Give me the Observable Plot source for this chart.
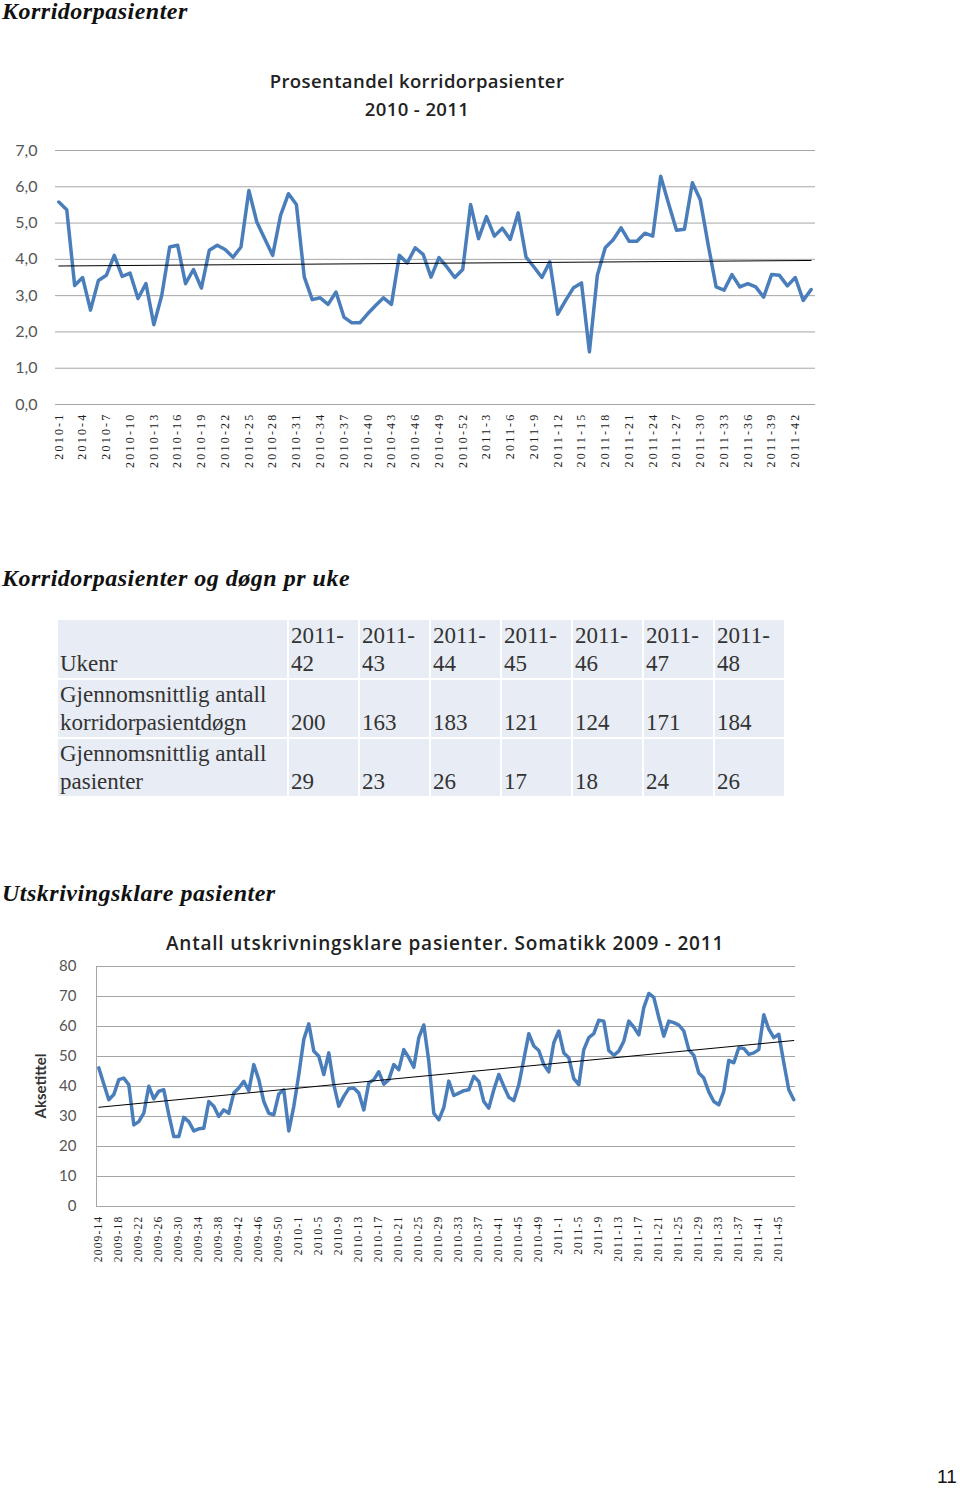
<!DOCTYPE html>
<html>
<head>
<meta charset="utf-8">
<script src="https://cdn.jsdelivr.net/npm/d3@7"></script>
<script src="https://cdn.jsdelivr.net/npm/@observablehq/plot@0.6"></script>
<style>
  html, body { margin: 0; padding: 0; background: #fff; }
  body { width: 960px; height: 1488px; position: relative; overflow: hidden; }
  .abs { position: absolute; }
  .h { position: absolute; left: 2px; font-family: "Liberation Serif", serif; font-weight: bold; font-style: italic; font-size: 24px; letter-spacing: 0.5px; line-height: 24px; color: #111; white-space: nowrap; }
  .ctitle { position: absolute; font-family: "Open Sans", Lato, sans-serif; font-weight: 600; color: #222; text-align: center; white-space: nowrap; }
  table.t { position: absolute; left: 56px; top: 618px; border-collapse: separate; border-spacing: 2px; font-family: "Liberation Serif", serif; font-size: 23px; color: #333; }
  table.t td { background: #e8ecf4; vertical-align: bottom; padding: 0 3px 0 2px; line-height: 28px; }
  #c1 g[aria-label="x-axis tick label"] text { letter-spacing: 2.2px; }
  #c2 g[aria-label="x-axis tick label"] text { letter-spacing: 1.2px; }
</style>
</head>
<body>
<div class="h" style="top:-1px">Korridorpasienter</div>
<div class="ctitle" style="left:217px;width:400px;top:67px;font-size:18.5px;line-height:28px;letter-spacing:0.4px">Prosentandel korridorpasienter<br>2010 - 2011</div>
<div id="c1" class="abs" style="left:0;top:130px"></div>

<div class="h" style="top:566px">Korridorpasienter og døgn pr uke</div>
<div id="tbl"></div>

<div class="h" style="top:881px">Utskrivingsklare pasienter</div>
<div class="ctitle" style="left:145px;width:600px;top:931px;font-size:19px;line-height:24px;letter-spacing:0.8px">Antall utskrivningsklare pasienter. Somatikk 2009 - 2011</div>
<div class="abs" style="left:40px;top:1086px;transform:translate(-50%,-50%) rotate(-90deg);font-family:Lato,sans-serif;font-weight:bold;font-size:15px;color:#333;white-space:nowrap">Aksetittel</div>
<div id="c2" class="abs" style="left:0;top:955px"></div>

<div class="abs" style="left:937px;top:1466px;font-family:'Liberation Sans',sans-serif;font-size:19px;color:#111">11</div>

<script>
// ---------- Chart 1: Prosentandel korridorpasienter 2010 - 2011 ----------
const pct2010 = [5.58, 5.37, 3.28, 3.50, 2.60, 3.42, 3.56, 4.11, 3.53, 3.62, 2.92, 3.33, 2.20, 3.01, 4.34, 4.39,
  3.33, 3.72, 3.21, 4.25, 4.39, 4.27, 4.06, 4.34, 5.90, 5.03, 4.57, 4.11, 5.21, 5.81, 5.51, 3.51,
  2.89, 2.94, 2.76, 3.10, 2.41, 2.25, 2.25, 2.50, 2.73, 2.94, 2.76, 4.11, 3.90, 4.32, 4.14, 3.51,
  4.05, 3.79, 3.50, 3.72];
const pct2011 = [5.51, 4.57, 5.18, 4.64, 4.86, 4.55, 5.28, 4.06, 3.79, 3.50, 3.93, 2.49, 2.87, 3.22, 3.35, 1.45,
  3.56, 4.32, 4.54, 4.87, 4.50, 4.50, 4.72, 4.64, 6.29, 5.53, 4.80, 4.83, 6.11, 5.64, 4.40, 3.24,
  3.15, 3.58, 3.24, 3.33, 3.24, 2.96, 3.58, 3.56, 3.27, 3.50, 2.87, 3.17];
const yTicks1 = [0, 1, 2, 3, 4, 5, 6, 7];
const tickStep1 = 3;

// ---------- Table ----------
const tableWeeks = ["2011-42", "2011-43", "2011-44", "2011-45", "2011-46", "2011-47", "2011-48"];
const tableDogn = [200, 163, 183, 121, 124, 171, 184];
const tablePasienter = [29, 23, 26, 17, 18, 24, 26];
const rowLabels = ["Ukenr", "Gjennomsnittlig antall<br>korridorpasientdøgn", "Gjennomsnittlig antall<br>pasienter"];

// ---------- Chart 2: Antall utskrivningsklare pasienter ----------
const utsk2009 = [46.2, 40.8, 35.6, 37.3, 42.3, 42.8, 40.6, 27.2, 28.3, 31.1, 40.1, 35.9, 38.4, 38.9, 30.6, 23.3,
  23.3, 29.7, 28.3, 25.2, 25.9, 26.1, 35.0, 33.4, 30.0, 32.2, 31.1, 37.8, 39.5, 41.7, 38.6, 47.3,
  42.3, 35.0, 31.1, 30.6, 37.5, 38.9, 25.2, 33.4];
const utsk2010 = [44.0, 55.7, 60.9, 51.8, 50.1, 44.0, 51.2, 40.6, 33.4, 36.7, 39.3, 39.5, 37.8, 32.2, 41.2, 42.3,
  44.9, 40.8, 42.3, 47.3, 45.6, 52.3, 49.6, 46.4, 56.3, 60.5, 48.4, 31.1, 28.9, 33.0, 41.8, 37.0,
  37.8, 38.6, 38.9, 43.4, 41.7, 35.0, 32.8, 38.9, 44.0, 40.1, 36.4, 35.3, 40.6, 49.0, 57.6, 53.5,
  52.0, 47.3, 44.9, 54.6];
const utsk2011 = [58.5, 51.2, 49.6, 42.6, 40.6, 52.3, 56.3, 57.6, 62.1, 61.8, 52.0, 50.4, 51.8, 55.1, 61.8, 59.8,
  57.2, 66.3, 71.0, 69.7, 63.0, 56.8, 61.8, 61.3, 60.5, 58.5, 52.3, 50.4, 44.5, 42.8, 38.2, 35.0,
  33.9, 38.4, 48.7, 47.9, 52.9, 52.7, 50.7, 51.2, 52.3, 63.9, 59.1, 56.3, 57.4, 47.9, 38.9, 35.6];
const yTicks2 = [0, 10, 20, 30, 40, 50, 60, 70, 80];
const tickStep2 = 4;

// week categories (year, first week of series)
function weekLabels(year, firstWeek, n) { return d3.range(n).map(k => `${year}-${firstWeek + k}`); }

const weeks1 = [...weekLabels(2010, 1, pct2010.length), ...weekLabels(2011, 1, pct2011.length)];
const vals1 = [...pct2010, ...pct2011];
const data1 = vals1.map((v, i) => ({i, v}));

const weeks2 = [...weekLabels(2009, 14, utsk2009.length), ...weekLabels(2010, 1, utsk2010.length), ...weekLabels(2011, 1, utsk2011.length)];
const vals2 = [...utsk2009, ...utsk2010, ...utsk2011];
const data2 = vals2.map((v, i) => ({i, v}));

const blue = "#4a7ebb";
const gray = "#a6a6a6";

// Chart 1
const x1Domain = [-0.42, vals1.length - 0.45];
const c1 = Plot.plot({
  width: 960, height: 350,
  marginLeft: 55, marginRight: 145, marginTop: 20, marginBottom: 76,
  style: {background: "transparent", overflow: "visible"},
  x: {domain: x1Domain, label: null},
  y: {domain: [0, 7], label: null},
  marks: [
    Plot.gridY(yTicks1, {stroke: gray, strokeOpacity: 1, strokeWidth: 1}),
    Plot.axisY(yTicks1, {tickSize: 0, tickPadding: 18, tickFormat: d => d.toFixed(1).replace(".", ","),
      fontFamily: "Lato, sans-serif", fontSize: 16, fill: "#555", label: null}),
    Plot.axisX(d3.range(0, vals1.length - 2, tickStep1), {tickSize: 0, tickPadding: 8, tickRotate: -90,
      tickFormat: i => weeks1[i], fontFamily: "Liberation Serif, serif", fontSize: 12, fill: "#222", label: null}),
    Plot.line(data1, {x: "i", y: "v", stroke: blue, strokeWidth: 3.5, strokeLinejoin: "round"}),
    Plot.linearRegressionY(data1, {x: "i", y: "v", ci: 0, stroke: "#000", strokeWidth: 1})
  ]
});
document.getElementById("c1").append(c1);

// Table
const tbl = document.createElement("table");
tbl.className = "t";
const colW = [229, 69, 69, 69, 69, 69, 69, 69];
const rows = [
  {h: 58, label: rowLabels[0], cells: tableWeeks.map(w => w.replace("-", "-<br>"))},
  {h: 57, label: rowLabels[1], cells: tableDogn.map(String)},
  {h: 57, label: rowLabels[2], cells: tablePasienter.map(String)}
];
for (const r of rows) {
  const tr = document.createElement("tr");
  [r.label, ...r.cells].forEach((c, k) => {
    const td = document.createElement("td");
    td.innerHTML = c;
    td.style.width = (colW[k] - 5) + "px";
    td.style.height = r.h + "px";
    tr.append(td);
  });
  tbl.append(tr);
}
document.getElementById("tbl").append(tbl);

// Chart 2
const x2Domain = [-0.46, vals2.length - 0.66];
const c2 = Plot.plot({
  width: 960, height: 320,
  marginLeft: 96, marginRight: 165, marginTop: 11, marginBottom: 69,
  style: {background: "transparent", overflow: "visible"},
  x: {domain: x2Domain, label: null},
  y: {domain: [0, 80], label: null},
  marks: [
    Plot.gridY(yTicks2, {stroke: gray, strokeOpacity: 1, strokeWidth: 1}),
    Plot.ruleX([x2Domain[0]], {stroke: gray, strokeWidth: 1}),
    Plot.axisY(yTicks2, {tickSize: 0, tickPadding: 20, fontFamily: "Lato, sans-serif", fontSize: 15, fill: "#555", label: null}),
    Plot.axisX(d3.range(0, vals2.length - 2, tickStep2), {tickSize: 0, tickPadding: 9, tickRotate: -90,
      tickFormat: i => weeks2[i], fontFamily: "Liberation Serif, serif", fontSize: 11.5, fill: "#222", label: null}),
    Plot.line(data2, {x: "i", y: "v", stroke: blue, strokeWidth: 3.5, strokeLinejoin: "round"}),
    Plot.linearRegressionY(data2, {x: "i", y: "v", ci: 0, stroke: "#000", strokeWidth: 1})
  ]
});
document.getElementById("c2").append(c2);
</script>
</body>
</html>
